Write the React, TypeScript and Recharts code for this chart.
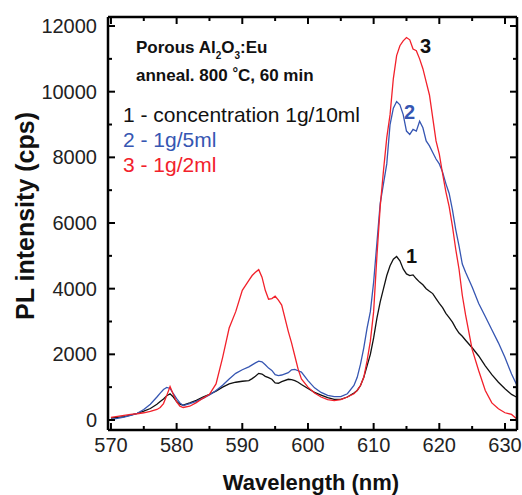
import React from 'react';
import { LineChart, Line, XAxis, YAxis } from 'recharts';

const wavelength = [570, 571, 572, 573, 574, 575, 576, 577, 577.5, 578, 578.5, 579, 579.5, 580, 580.5, 581, 582, 583, 584, 585, 586, 587, 588, 589, 590, 591, 591.5, 592, 592.5, 593, 593.5, 594, 594.5, 595, 595.5, 596, 597, 597.5, 598, 598.5, 599, 600, 601, 602, 603, 604, 605, 606, 607, 607.5, 608, 608.5, 609, 609.5, 610, 610.5, 611, 611.5, 612, 612.5, 613, 613.5, 614, 614.5, 615, 615.5, 616, 616.5, 617, 617.5, 618, 618.5, 619, 619.5, 620, 620.5, 621, 621.5, 622, 622.5, 623, 623.5, 624, 625, 626, 627, 628, 629, 630, 631, 632];

const conc10 = [60, 80, 100, 150, 200, 270, 350, 480, 560, 640, 740, 800, 700, 560, 480, 450, 520, 600, 700, 780, 880, 1000, 1100, 1150, 1180, 1200, 1260, 1330, 1420, 1400, 1330, 1290, 1240, 1130, 1120, 1170, 1240, 1230, 1200, 1150, 1080, 960, 840, 760, 680, 630, 630, 700, 820, 900, 1050, 1300, 1650, 2000, 2500, 3100, 3600, 4000, 4400, 4700, 4900, 4980, 4850, 4600, 4450, 4400, 4420, 4300, 4200, 4120, 4000, 3920, 3850, 3700, 3550, 3420, 3250, 3120, 2980, 2800, 2650, 2550, 2430, 2200, 1950, 1650, 1380, 1150, 950, 780, 670];

const conc5 = [20, 50, 90, 140, 200, 320, 480, 700, 820, 930, 990, 960, 800, 650, 520, 440, 500, 570, 660, 760, 900, 1060, 1250, 1420, 1530, 1620, 1680, 1740, 1790, 1770, 1680, 1580, 1510, 1380, 1350, 1370, 1440, 1530, 1540, 1500, 1460, 1200, 980, 840, 750, 710, 710, 800, 1050, 1300, 1700, 2200, 2800, 3300, 4200, 5400, 6600, 7200, 7800, 9000, 9500, 9700, 9600, 9300, 8800, 8700, 8850, 8800, 9100, 8900, 8500, 8350, 8150, 7950, 7800, 7550, 7200, 6900, 6400, 5800, 5300, 4750, 4500, 4050, 3550, 3150, 2750, 2350, 1900, 1400, 980];

const conc2 = [80, 110, 140, 170, 190, 220, 260, 320, 380, 500, 750, 1020, 780, 550, 420, 380, 420, 530, 660, 780, 1100, 1900, 2800, 3300, 3950, 4250, 4400, 4500, 4580, 4350, 3950, 3680, 3700, 3770, 3650, 3500, 2700, 2350, 1950, 1550, 1250, 1000, 820, 700, 620, 590, 620, 700, 800, 900, 1050, 1300, 1800, 2400, 3300, 5000, 6500, 7600, 8600, 9300, 10400, 11100, 11400, 11550, 11650, 11580, 11300, 11250, 11000, 10700, 10300, 9900, 9200, 8500, 8100, 7500, 6950, 6500, 5900, 5200, 4600, 3800, 3200, 2150, 1500, 900, 520, 340, 220, 170, 0];

const xTicks = [570, 575, 580, 585, 590, 595, 600, 605, 610, 615, 620, 625, 630];
const yTicks = [0, 1000, 2000, 3000, 4000, 5000, 6000, 7000, 8000, 9000, 10000, 11000, 12000];

const data = wavelength.map((wl, i) => ({ wl, s1: conc10[i], s2: conc5[i], s3: conc2[i] }));

const FONT = '"Liberation Sans", Arial, Helvetica, sans-serif';
const BLUE = '#3656b2';
const RED = '#f2212b';

const BottomTick = (props: any) => {
  const { x, y, payload } = props;
  const major = payload.value % 10 === 0;
  return (
    <g>
      <line x1={x} x2={x} y1={y} y2={y - (major ? 7 : 4)} stroke="#000" strokeWidth={2} />
      {major && (
        <text x={x} y={y + 22} textAnchor="middle" fontSize={20} fill="#222" fontFamily={FONT}>
          {payload.value}
        </text>
      )}
    </g>
  );
};

const TopTick = (props: any) => {
  const { x, y, payload } = props;
  const major = payload.value % 10 === 0;
  return <line x1={x} x2={x} y1={y} y2={y + (major ? 7 : 4)} stroke="#000" strokeWidth={2} />;
};

const LeftTick = (props: any) => {
  const { x, y, payload } = props;
  const major = payload.value % 2000 === 0;
  return (
    <g>
      <line x1={x} x2={x + (major ? 7 : 4)} y1={y} y2={y} stroke="#000" strokeWidth={2} />
      {major && (
        <text x={x - 11} y={y + 7} textAnchor="end" fontSize={20} fill="#222" fontFamily={FONT}>
          {payload.value}
        </text>
      )}
    </g>
  );
};

const RightTick = (props: any) => {
  const { x, y, payload } = props;
  const major = payload.value % 2000 === 0;
  return <line x1={x} x2={x - (major ? 7 : 4)} y1={y} y2={y} stroke="#000" strokeWidth={2} />;
};

const axisLine = { stroke: '#000', strokeWidth: 2.5 };

export default function App() {
  return (
    <div style={{ position: 'absolute', left: 0, top: 0, width: 522, height: 495, background: '#fff' }}>
      <LineChart width={522} height={495} data={data} margin={{ top: 16, right: 4, bottom: 64, left: 107 }}>
        <XAxis
          xAxisId="bottom"
          dataKey="wl"
          type="number"
          domain={[569.55, 631.83]}
          allowDataOverflow
          ticks={xTicks}
          interval={0}
          height={1}
          tickSize={0}
          tickMargin={0}
          tick={<BottomTick />}
          axisLine={axisLine}
          tickLine={false}
        />
        <XAxis
          xAxisId="top"
          orientation="top"
          dataKey="wl"
          type="number"
          domain={[569.55, 631.83]}
          allowDataOverflow
          ticks={xTicks}
          interval={0}
          height={1}
          tickSize={0}
          tickMargin={0}
          tick={<TopTick />}
          axisLine={axisLine}
          tickLine={false}
        />
        <YAxis
          yAxisId="left"
          type="number"
          domain={[-305, 12275]}
          allowDataOverflow
          ticks={yTicks}
          interval={0}
          width={1}
          tickSize={0}
          tickMargin={0}
          tick={<LeftTick />}
          axisLine={axisLine}
          tickLine={false}
        />
        <YAxis
          yAxisId="right"
          orientation="right"
          type="number"
          domain={[-305, 12275]}
          allowDataOverflow
          ticks={yTicks}
          interval={0}
          width={1}
          tickSize={0}
          tickMargin={0}
          tick={<RightTick />}
          axisLine={axisLine}
          tickLine={false}
        />
        <Line xAxisId="bottom" yAxisId="left" dataKey="s1" stroke="#111" strokeWidth={1.3} dot={false} isAnimationActive={false} />
        <Line xAxisId="bottom" yAxisId="left" dataKey="s2" stroke={BLUE} strokeWidth={1.3} dot={false} isAnimationActive={false} />
        <Line xAxisId="bottom" yAxisId="left" dataKey="s3" stroke={RED} strokeWidth={1.3} dot={false} isAnimationActive={false} />
      </LineChart>
      <svg width={522} height={495} style={{ position: 'absolute', left: 0, top: 0, pointerEvents: 'none' }}>
        <g fontFamily={FONT}>
          <text x={136} y={53} fontSize={17} fontWeight="bold" fill="#111">
            Porous Al<tspan fontSize={10} dy={6}>2</tspan>
            <tspan fontSize={17} dy={-6}>O</tspan>
            <tspan fontSize={10} dy={6}>3</tspan>
            <tspan fontSize={17} dy={-6}>:Eu</tspan>
          </text>
          <text x={136} y={81} fontSize={17} fontWeight="bold" fill="#111">
            anneal. 800 <tspan fontSize={14} dy={-3}>°</tspan>
            <tspan fontSize={17} dy={3}>C, 60 min</tspan>
          </text>
          <text x={123} y={122} fontSize={21} fill="#111">1 - concentration 1g/10ml</text>
          <text x={123} y={147} fontSize={21} fill={BLUE}>2 - 1g/5ml</text>
          <text x={123} y={172} fontSize={21} fill={RED}>3 - 1g/2ml</text>
          <text x={420} y={53} fontSize={20} fontWeight="bold" fill="#111">3</text>
          <text x={404} y={119} fontSize={20} fontWeight="bold" fill={BLUE}>2</text>
          <text x={406} y={263} fontSize={20} fontWeight="bold" fill="#111">1</text>
          <text x={311} y={490} fontSize={22} fontWeight="bold" fill="#111" textAnchor="middle">
            Wavelength (nm)
          </text>
          <text
            x={34}
            y={216}
            fontSize={25}
            fontWeight="bold"
            fill="#111"
            textAnchor="middle"
            transform="rotate(-90 34 216)"
          >
            PL intensity (cps)
          </text>
        </g>
      </svg>
    </div>
  );
}
